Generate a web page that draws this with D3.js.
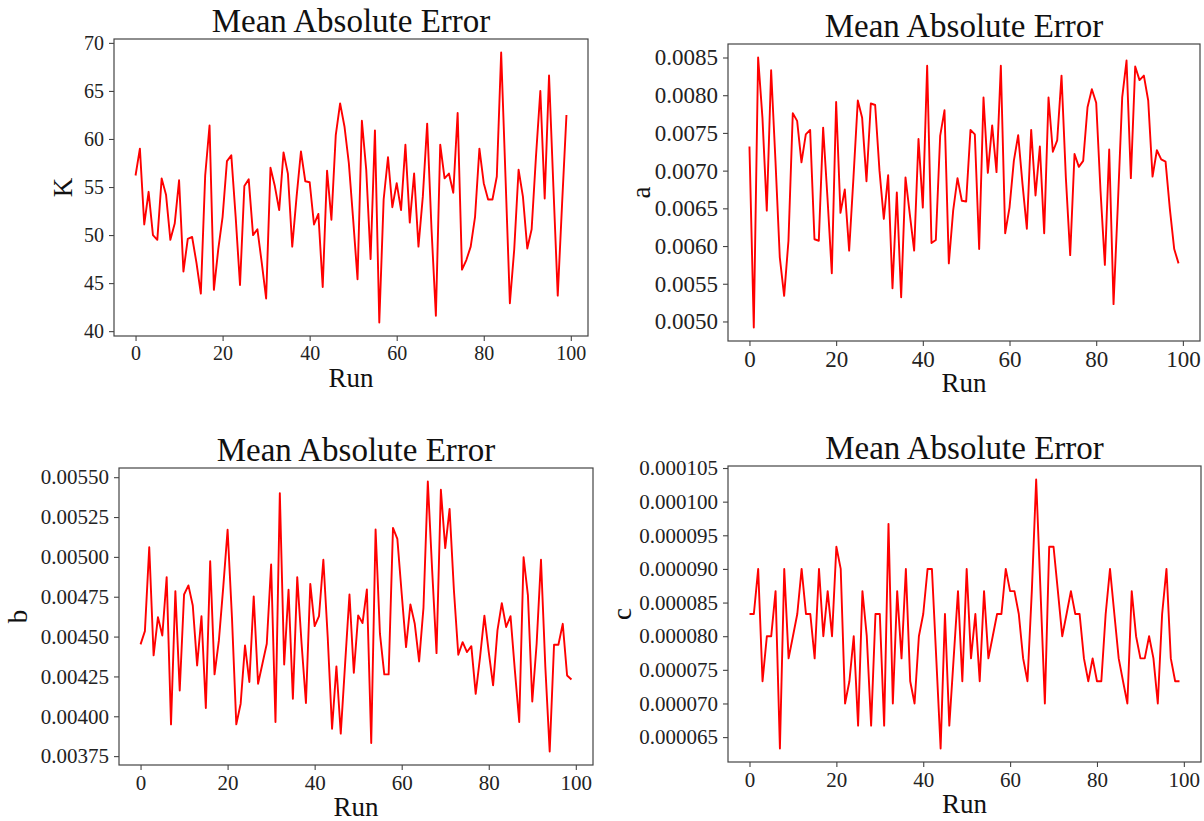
<!DOCTYPE html>
<html>
<head>
<meta charset="utf-8">
<script src="https://cdn.jsdelivr.net/npm/d3@7"></script>
<style>
  body { margin: 0; background: #fff; }
  svg { display: block; }
</style>
</head>
<body>
<script>
// run index 0..99 shared by every panel
var runs = d3.range(100);
var xTicks = [0, 20, 40, 60, 80, 100];

var kErr = [56.2, 59.0, 51.1, 54.5, 50.0, 49.5, 55.9, 54.2, 49.5, 51.2,
    55.7, 46.2, 49.6, 49.8, 47.1, 43.9, 56.2, 61.4, 44.3, 48.5,
    51.9, 57.7, 58.3, 51.9, 44.8, 55.1, 55.8, 50.0, 50.6, 47.1,
    43.4, 57.0, 55.1, 52.6, 58.6, 56.4, 48.8, 54.0, 58.7, 55.6,
    55.5, 51.1, 52.2, 44.6, 56.7, 51.6, 60.4, 63.7, 61.3, 57.5,
    51.6, 45.4, 61.9, 56.8, 47.5, 60.9, 40.9, 53.7, 58.1, 52.9,
    55.4, 52.6, 59.4, 51.3, 56.4, 48.8, 54.0, 61.6, 50.6, 41.6,
    59.4, 55.9, 56.4, 54.4, 62.7, 46.4, 47.4, 48.8, 51.9, 59.0,
    55.4, 53.7, 53.7, 56.1, 69.0, 56.0, 42.9, 48.5, 56.8, 54.0,
    48.6, 50.6, 58.2, 65.0, 53.8, 66.6, 55.0, 43.7, 53.3, 62.5];

var aErr = [0.00732, 0.00492, 0.00850, 0.00770, 0.00647, 0.00833, 0.00713, 0.00585, 0.00534, 0.00607,
    0.00776, 0.00766, 0.00711, 0.00748, 0.00754, 0.00609, 0.00607, 0.00757, 0.00664, 0.00564,
    0.00791, 0.00644, 0.00675, 0.00594, 0.00691, 0.00793, 0.00770, 0.00686, 0.00789, 0.00787,
    0.00700, 0.00636, 0.00694, 0.00544, 0.00671, 0.00532, 0.00691, 0.00642, 0.00594, 0.00742,
    0.00651, 0.00839, 0.00604, 0.00608, 0.00746, 0.00780, 0.00577, 0.00647, 0.00690, 0.00660,
    0.00659, 0.00754, 0.00748, 0.00596, 0.00797, 0.00697, 0.00760, 0.00698, 0.00839, 0.00617,
    0.00651, 0.00713, 0.00747, 0.00682, 0.00623, 0.00754, 0.00667, 0.00732, 0.00617, 0.00797,
    0.00725, 0.00740, 0.00826, 0.00691, 0.00588, 0.00722, 0.00705, 0.00713, 0.00784, 0.00808,
    0.00790, 0.00673, 0.00575, 0.00728, 0.00523, 0.00655, 0.00797, 0.00846, 0.00690, 0.00838,
    0.00820, 0.00826, 0.00793, 0.00692, 0.00727, 0.00715, 0.00712, 0.00649, 0.00596, 0.00577];

var bErr = [0.004451, 0.004534, 0.005061, 0.004382, 0.004622, 0.004507, 0.004873, 0.003949, 0.004785, 0.004162,
    0.004764, 0.004821, 0.004695, 0.004319, 0.004628, 0.004052, 0.004973, 0.004263, 0.004476, 0.004810,
    0.005170, 0.004622, 0.003949, 0.004079, 0.004445, 0.004215, 0.004752, 0.004204, 0.004330, 0.004455,
    0.004952, 0.003964, 0.005400, 0.004325, 0.004794, 0.004110, 0.004873, 0.004455, 0.004083, 0.004831,
    0.004566, 0.004628, 0.004982, 0.004497, 0.003922, 0.004313, 0.003891, 0.004330, 0.004764, 0.004273,
    0.004633, 0.004585, 0.004796, 0.003832, 0.005172, 0.004518, 0.004263, 0.004263, 0.005182, 0.005113,
    0.004769, 0.004434, 0.004702, 0.004580, 0.004344, 0.004680, 0.005473, 0.004915, 0.004396, 0.005421,
    0.005055, 0.005301, 0.004789, 0.004386, 0.004465, 0.004403, 0.004440, 0.004141, 0.004371, 0.004631,
    0.004403, 0.004194, 0.004539, 0.004710, 0.004560, 0.004628, 0.004288, 0.003964, 0.004998, 0.004758,
    0.004093, 0.004455, 0.004982, 0.004309, 0.003779, 0.004449, 0.004449, 0.004580, 0.004256, 0.004231];

var cErr = [0.0000833, 0.0000833, 0.0000900, 0.0000733, 0.0000800, 0.0000800, 0.0000867, 0.0000633, 0.0000900, 0.0000767,
    0.0000800, 0.0000833, 0.0000900, 0.0000833, 0.0000833, 0.0000767, 0.0000900, 0.0000800, 0.0000867, 0.0000800,
    0.0000933, 0.0000900, 0.0000700, 0.0000733, 0.0000800, 0.0000667, 0.0000867, 0.0000800, 0.0000667, 0.0000833,
    0.0000833, 0.0000667, 0.0000967, 0.0000700, 0.0000867, 0.0000767, 0.0000900, 0.0000733, 0.0000700, 0.0000800,
    0.0000833, 0.0000900, 0.0000900, 0.0000767, 0.0000633, 0.0000833, 0.0000667, 0.0000767, 0.0000867, 0.0000733,
    0.0000900, 0.0000767, 0.0000833, 0.0000733, 0.0000867, 0.0000767, 0.0000800, 0.0000833, 0.0000833, 0.0000900,
    0.0000867, 0.0000867, 0.0000833, 0.0000767, 0.0000733, 0.0000867, 0.0001033, 0.0000867, 0.0000700, 0.0000933,
    0.0000933, 0.0000867, 0.0000800, 0.0000833, 0.0000867, 0.0000833, 0.0000833, 0.0000767, 0.0000733, 0.0000767,
    0.0000733, 0.0000733, 0.0000833, 0.0000900, 0.0000833, 0.0000767, 0.0000733, 0.0000700, 0.0000867, 0.0000800,
    0.0000767, 0.0000767, 0.0000800, 0.0000767, 0.0000700, 0.0000833, 0.0000900, 0.0000767, 0.0000733, 0.0000733];

var kTicks = [40, 45, 50, 55, 60, 65, 70];
var aTicks = [0.0050, 0.0055, 0.0060, 0.0065, 0.0070, 0.0075, 0.0080, 0.0085];
var bTicks = [0.00375, 0.00400, 0.00425, 0.00450, 0.00475, 0.00500, 0.00525, 0.00550];
var cTicks = [0.000065, 0.000070, 0.000075, 0.000080, 0.000085, 0.000090, 0.000095, 0.000100, 0.000105];

var title = "Mean Absolute Error",
    xName = "Run";

var font = '"Liberation Serif", "Times New Roman", serif',
    spine_col = "#444",
    text_col = "#222",
    line_col = "#ff0000";

var svg = d3.select("body")
    .append("svg")
    .attr("width", 1204)
    .attr("height", 821);

// matplotlib style: 5% padding around the data
function padded(ext) {
    var pad = (ext[1] - ext[0]) * 0.05;
    return [ext[0] - pad, ext[1] + pad];
}

function draw_panel(p) {

    var w = p.right - p.left,
        h = p.bottom - p.top;

    var x = d3.scaleLinear()
        .domain(padded(d3.extent(runs)))
        .range([0, w]);

    var y = d3.scaleLinear()
        .domain(padded(d3.extent(p.values)))
        .range([h, 0]);

    var g = svg.append("g")
        .attr("transform", "translate(" + p.left + "," + p.top + ")");

    var xAxis = g.append("g")
        .attr("transform", "translate(0," + h + ")")
        .call(d3.axisBottom(x).tickValues(xTicks).tickSize(5).tickPadding(5));

    var yAxis = g.append("g")
        .call(d3.axisLeft(y).tickValues(p.ticks).tickSize(5).tickPadding(5)
            .tickFormat(d3.format("." + p.digits + "f")));

    [xAxis, yAxis].forEach(function(ax) {
        ax.selectAll("path").remove();
        ax.selectAll("line").attr("stroke", spine_col).attr("stroke-width", 1.1);
        ax.selectAll("text")
            .attr("font-family", font)
            .attr("font-size", p.tickSize + "px")
            .attr("fill", text_col);
    });

    // frame
    g.append("rect")
        .attr("width", w)
        .attr("height", h)
        .attr("fill", "none")
        .attr("stroke", spine_col)
        .attr("stroke-width", 1.2);

    var line = d3.line()
        .x(function(d, i) { return x(runs[i]); })
        .y(function(d) { return y(d); });

    g.append("path")
        .datum(p.values)
        .attr("d", line)
        .attr("fill", "none")
        .attr("stroke", line_col)
        .attr("stroke-width", 1.9)
        .attr("stroke-linejoin", "round");

    g.append("text")
        .text(title)
        .attr("x", w / 2)
        .attr("y", -7)
        .attr("text-anchor", "middle")
        .attr("font-family", font)
        .attr("font-size", "33px")
        .attr("fill", "#111");

    g.append("text")
        .text(xName)
        .attr("x", w / 2)
        .attr("y", h + 51)
        .attr("text-anchor", "middle")
        .attr("font-family", font)
        .attr("font-size", "27px")
        .attr("fill", "#111");

    g.append("text")
        .text(p.yName)
        .attr("transform", "translate(" + (p.yLabelX - p.left) + "," + (h / 2) + ") rotate(-90)")
        .attr("dy", "0.35em")
        .attr("text-anchor", "middle")
        .attr("font-family", font)
        .attr("font-size", "27px")
        .attr("fill", "#111");
}

draw_panel({ values: kErr, ticks: kTicks, digits: 0, yName: "K",
    left: 114, right: 588, top: 39, bottom: 336, yLabelX: 63, tickSize: 20 });

draw_panel({ values: aErr, ticks: aTicks, digits: 4, yName: "a",
    left: 728, right: 1200, top: 44, bottom: 341, yLabelX: 641, tickSize: 23 });

draw_panel({ values: bErr, ticks: bTicks, digits: 5, yName: "b",
    left: 119, right: 593, top: 468, bottom: 765, yLabelX: 18, tickSize: 21 });

draw_panel({ values: cErr, ticks: cTicks, digits: 6, yName: "c",
    left: 728, right: 1201, top: 466, bottom: 762, yLabelX: 622, tickSize: 21 });
</script>
</body>
</html>
